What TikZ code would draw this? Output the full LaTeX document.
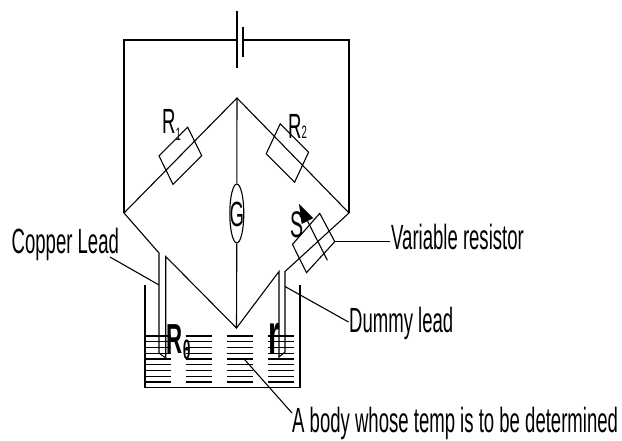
\documentclass[tikz,border=0pt]{standalone}
\usepackage{fontspec}
\setmainfont{Liberation Sans}
\usetikzlibrary{shapes.geometric}
\newcommand{\nrw}[1]{\scalebox{0.53}[1]{#1}}
\tikzset{
  wire/.style={line width=1.1pt},
  lbl/.style={inner sep=0pt, anchor=base west, font=\fontsize{35}{35}\selectfont},
  galv/.style={draw, ellipse, line width=1.1pt, minimum width=14pt, minimum height=59pt, inner sep=0pt},
  resbox/.style={line width=1.1pt},
}
\begin{document}
\begin{tikzpicture}[x=1pt,y=-1pt]
\fill[white] (0,0) rectangle (622,440);
\useasboundingbox (0,0) rectangle (622,440);
% main coordinates
\coordinate (TL) at (124,40);
\coordinate (TR) at (349,40);
\coordinate (BatL) at (237,40);
\coordinate (BatR) at (243,40);
\coordinate (BLt) at (237,11);
\coordinate (BLb) at (237,68);
\coordinate (BSt) at (243,27);
\coordinate (BSb) at (243,57);
\coordinate (Top) at (237,98);
\coordinate (Lv) at (124,213);
\coordinate (Rv) at (349,213);
\coordinate (Bot) at (236.5,328);
% leads
\coordinate (LAt) at (159,253);
\coordinate (LAb) at (159,353);
\coordinate (LBt) at (165.7,256.5);
\coordinate (LBb) at (165.7,358);
\coordinate (RAt) at (279,271.5);
\coordinate (RAb) at (279,357);
\coordinate (RBt) at (285,271.5);
\coordinate (RBb) at (285,352);
% container
\coordinate (CLt) at (145,285);
\coordinate (CLb) at (145,387.3);
\coordinate (CRb) at (300,387.3);
\coordinate (CRt) at (300,285);
% galvanometer
\node[galv] (G) at (236.8,213.5) {};
\node[lbl, anchor=base] (Glab) at (236.8,226.5) {\nrw{G}};
% battery and outer loop
\draw[wire] (BatL) -- (TL) -- (Lv);
\draw[wire] (BatR) -- (TR) -- (Rv);
\draw[wire] (BLt) -- (BLb);
\draw[wire] (BSt) -- (BSb);
% bridge arms
\draw[wire] (Lv) -- (Top) -- (Rv);
\draw[wire] (Top) -- (G.north);
\draw[wire] (G.south) -- (Bot);
% resistor R1
\coordinate (r1a) at (159.0,155.9);
\coordinate (r1b) at (187.7,127.2);
\coordinate (r1c) at (201.7,155.7);
\coordinate (r1d) at (173.0,184.4);
\draw[resbox] (r1a) -- (r1b) -- (r1c) -- (r1d) -- cycle;
% resistor R2
\coordinate (r2a) at (280.2,123.8);
\coordinate (r2b) at (308.6,152.2);
\coordinate (r2c) at (294.6,182.2);
\coordinate (r2d) at (266.2,153.8);
\draw[resbox] (r2a) -- (r2b) -- (r2c) -- (r2d) -- cycle;
% leads
\draw[wire] (Lv) -- (LAt) -- (LAb) -- (LBb) -- (LBt) -- (Bot) -- (RAt) -- (RAb) -- (RBb) -- (RBt) -- (Rv);
% variable resistor S
\coordinate (sa) at (292.45,244.35);
\coordinate (sb) at (319.75,213.35);
\coordinate (sc) at (334.75,241.65);
\coordinate (sd) at (306.45,272.65);
\draw[resbox] (sa) -- (sb) -- (sc) -- (sd) -- cycle;
\coordinate (arrT) at (299,204);
\coordinate (arrE) at (327.4,260.3);
\coordinate (arrB) at (307.5,221);
\coordinate (arrB1) at (313.3,218.1);
\coordinate (arrB2) at (301.7,223.9);
\draw[wire] (arrE) -- (arrB);
\fill (arrT) -- (arrB1) -- (arrB2) -- cycle;
% container
\draw[wire] (CLt) -- (CLb) -- (CRb) -- (CRt);
% liquid
\foreach \k in {0,...,8} {
  \pgfmathsetmacro\yy{336+5.75*\k}
  \draw[wire] (145,\yy) -- (170.7,\yy);
  \draw[wire] (185.7,\yy) -- (211.7,\yy);
  \draw[wire] (226.7,\yy) -- (253.3,\yy);
  \draw[wire] (268.3,\yy) -- (294,\yy);
}
% labels
\node[lbl] (r1lab) at (162,133) {\nrw{R\raisebox{-7pt}{\fontsize{18}{18}\selectfont 1}}};
\node[lbl] (r2lab) at (288,138) {\nrw{R\raisebox{-0.5pt}{\fontsize{18}{18}\selectfont 2}}};
\node[lbl, font=\fontsize{37}{37}\selectfont] (slab) at (290,237) {\nrw{S}};
\node[lbl, font=\fontsize{42}{42}\selectfont\bfseries] (rth) at (166.5,353) {\nrw{R\raisebox{-6.5pt}{\fontsize{27}{27}\selectfont θ}}};
\node[lbl, font=\fontsize{56}{56}\selectfont\bfseries] (rlab) at (268,353) {\nrw{r}};
\node[lbl] (copper) at (11.5,253) {\nrw{Copper Lead}};
\node[lbl] (varres) at (391,249) {\nrw{Variable resistor}};
\node[lbl] (dummy) at (349,332) {\nrw{Dummy lead}};
\node[lbl] (body) at (292,432) {\nrw{A body whose temp is to be determined}};
% leader lines
\coordinate (cl1) at (110,257);
\coordinate (cl2) at (159,285);
\coordinate (vr2) at (390,241.65);
\coordinate (dl1) at (285,286.5);
\coordinate (dl2) at (348.5,322);
\coordinate (bd1) at (245,360);
\coordinate (bd2) at (292,413);
\draw[wire] (cl1) -- (cl2);
\draw[wire] (sc) -- (vr2);
\draw[wire] (dl1) -- (dl2);
\draw[wire] (bd1) -- (bd2);
\end{tikzpicture}
\end{document}
